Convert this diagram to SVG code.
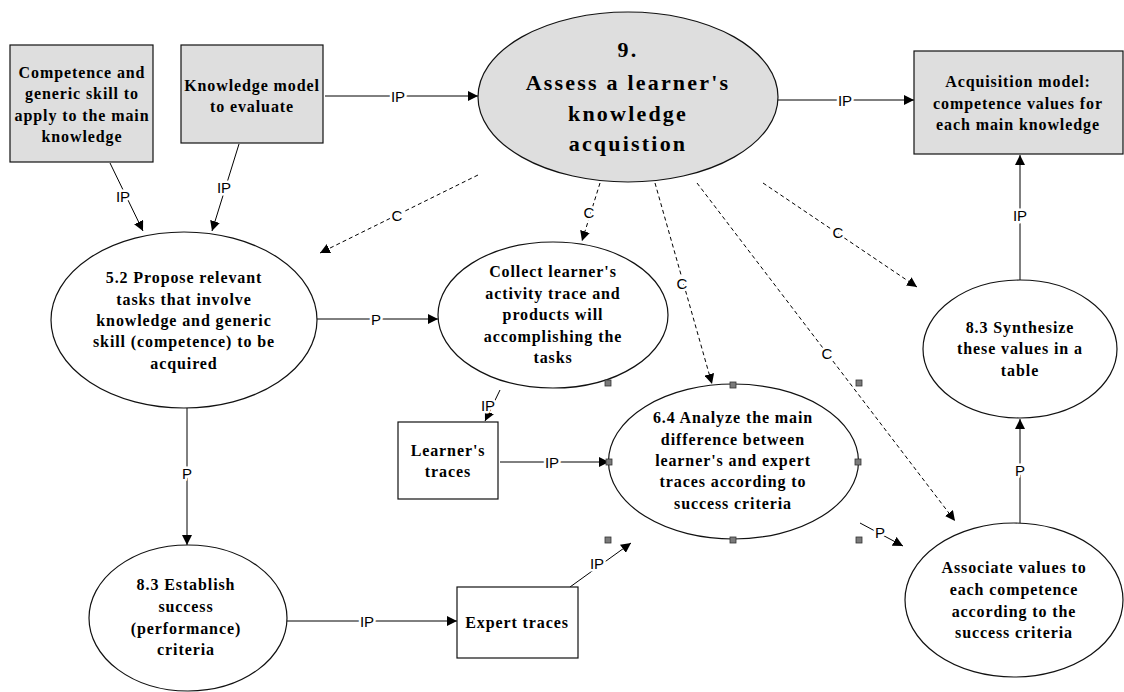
<svg xmlns="http://www.w3.org/2000/svg" width="1124" height="692" viewBox="0 0 1124 692">
  <style>
    .node { stroke: #111; stroke-width: 1.2; }
    .grey { fill: #dedede; }
    .white { fill: #ffffff; }
    .t { font-family: "Liberation Serif", "Times New Roman", serif; font-weight: bold; font-size: 16px; letter-spacing: 0.9px; text-anchor: middle; fill: #000; }
    .big { font-size: 22px; letter-spacing: 2.2px; }
    .link { stroke: #000; stroke-width: 1; fill: none; }
    .dash { stroke-dasharray: 4 3; }
    .lbl { font-family: "Liberation Sans", Arial, sans-serif; font-size: 15px; text-anchor: middle; dominant-baseline: central; fill: #000; paint-order: stroke; stroke: #fff; stroke-width: 5px; stroke-linejoin: round; }
    .handle { fill: #7a7a7a; stroke: #333; stroke-width: 0.8; }
  </style>
  <defs>
    <marker id="arrow" viewBox="0 0 10 10" refX="10" refY="5" markerWidth="10" markerHeight="10" markerUnits="userSpaceOnUse" orient="auto">
      <path d="M0,0 L10,5 L0,10 z" fill="#000"/>
    </marker>
  </defs>

  <!-- connectors -->
  <g id="connectors">
    <line class="link" x1="325" y1="96" x2="478" y2="96" marker-end="url(#arrow)"/>
    <line class="link" x1="778" y1="100" x2="914" y2="100" marker-end="url(#arrow)"/>
    <line class="link" x1="110" y1="163" x2="143" y2="231" marker-end="url(#arrow)"/>
    <line class="link" x1="239" y1="144" x2="212" y2="231" marker-end="url(#arrow)"/>
    <line class="link dash" x1="478" y1="175" x2="320" y2="253" marker-end="url(#arrow)"/>
    <line class="link" x1="317" y1="319" x2="438" y2="319" marker-end="url(#arrow)"/>
    <line class="link dash" x1="600" y1="183" x2="582" y2="241" marker-end="url(#arrow)"/>
    <line class="link dash" x1="655" y1="183" x2="712" y2="384" marker-end="url(#arrow)"/>
    <line class="link dash" x1="697" y1="183" x2="955" y2="521" marker-end="url(#arrow)"/>
    <line class="link dash" x1="763" y1="183" x2="917" y2="287" marker-end="url(#arrow)"/>
    <line class="link" x1="500" y1="390" x2="485" y2="421" marker-end="url(#arrow)"/>
    <line class="link" x1="500" y1="462" x2="609" y2="462" marker-end="url(#arrow)"/>
    <line class="link" x1="187" y1="408" x2="187" y2="545" marker-end="url(#arrow)"/>
    <line class="link" x1="287" y1="621" x2="457" y2="621" marker-end="url(#arrow)"/>
    <line class="link" x1="570" y1="587" x2="631" y2="543" marker-end="url(#arrow)"/>
    <line class="link" x1="860" y1="523" x2="903" y2="546" marker-end="url(#arrow)"/>
    <line class="link" x1="1020" y1="280" x2="1020" y2="155" marker-end="url(#arrow)"/>
    <line class="link" x1="1020" y1="523" x2="1020" y2="419" marker-end="url(#arrow)"/>

    <text class="lbl" x="398" y="96">IP</text>
    <text class="lbl" x="845" y="100">IP</text>
    <text class="lbl" x="123" y="196">IP</text>
    <text class="lbl" x="224" y="187">IP</text>
    <text class="lbl" x="397" y="215">C</text>
    <text class="lbl" x="376" y="319">P</text>
    <text class="lbl" x="589" y="212">C</text>
    <text class="lbl" x="682" y="283">C</text>
    <text class="lbl" x="827" y="353">C</text>
    <text class="lbl" x="838" y="232">C</text>
    <text class="lbl" x="488" y="405">IP</text>
    <text class="lbl" x="552" y="462">IP</text>
    <text class="lbl" x="187" y="473">P</text>
    <text class="lbl" x="367" y="621">IP</text>
    <text class="lbl" x="597" y="563">IP</text>
    <text class="lbl" x="880" y="532">P</text>
    <text class="lbl" x="1020" y="215">IP</text>
    <text class="lbl" x="1020" y="470">P</text>
  </g>

  <!-- nodes -->
  <g id="competence-skill">
    <rect class="node grey" x="10" y="45" width="143" height="117"/>
    <text class="t" x="82" y="78">Competence and</text>
    <text class="t" x="82" y="99">generic skill to</text>
    <text class="t" x="82" y="121">apply to the main</text>
    <text class="t" x="82" y="142">knowledge</text>
  </g>

  <g id="knowledge-model">
    <rect class="node grey" x="181" y="45" width="142" height="98"/>
    <text class="t" x="252" y="91">Knowledge model</text>
    <text class="t" x="252" y="112">to evaluate</text>
  </g>

  <g id="assess-acquisition">
    <ellipse class="node grey" cx="628" cy="97" rx="150" ry="85"/>
    <text class="t big" x="628" y="57">9.</text>
    <text class="t big" x="628" y="90">Assess a learner's</text>
    <text class="t big" x="628" y="121">knowledge</text>
    <text class="t big" x="628" y="151">acquistion</text>
  </g>

  <g id="acquisition-model">
    <rect class="node grey" x="914" y="51" width="209" height="103"/>
    <text class="t" x="1018" y="87">Acquisition model:</text>
    <text class="t" x="1018" y="109">competence values for</text>
    <text class="t" x="1018" y="130">each main knowledge</text>
  </g>

  <g id="propose-tasks">
    <ellipse class="node white" cx="184" cy="320" rx="133" ry="88"/>
    <text class="t" x="184" y="283">5.2 Propose relevant</text>
    <text class="t" x="184" y="305">tasks that involve</text>
    <text class="t" x="184" y="326">knowledge and generic</text>
    <text class="t" x="184" y="347">skill (competence) to be</text>
    <text class="t" x="184" y="369">acquired</text>
  </g>

  <g id="collect-traces">
    <ellipse class="node white" cx="553" cy="315" rx="115" ry="73"/>
    <text class="t" x="553" y="277">Collect learner's</text>
    <text class="t" x="553" y="299">activity trace and</text>
    <text class="t" x="553" y="320">products will</text>
    <text class="t" x="553" y="342">accomplishing the</text>
    <text class="t" x="553" y="363">tasks</text>
  </g>

  <g id="learner-traces">
    <rect class="node white" x="398" y="422" width="100" height="77"/>
    <text class="t" x="448" y="456">Learner's</text>
    <text class="t" x="448" y="477">traces</text>
  </g>

  <g id="analyze-difference">
    <ellipse class="node white" cx="733.5" cy="461.5" rx="125" ry="77.5"/>
    <text class="t" x="733" y="423">6.4 Analyze the main</text>
    <text class="t" x="733" y="445">difference between</text>
    <text class="t" x="733" y="466">learner's and expert</text>
    <text class="t" x="733" y="487">traces according to</text>
    <text class="t" x="733" y="509">success criteria</text>
    <rect class="handle" x="605" y="380" width="6" height="6"/>
    <rect class="handle" x="730" y="382" width="6" height="6"/>
    <rect class="handle" x="856" y="380" width="6" height="6"/>
    <rect class="handle" x="606" y="459" width="6" height="6"/>
    <rect class="handle" x="855" y="459" width="6" height="6"/>
    <rect class="handle" x="605" y="537" width="6" height="6"/>
    <rect class="handle" x="730" y="537" width="6" height="6"/>
    <rect class="handle" x="856" y="537" width="6" height="6"/>
  </g>

  <g id="synthesize-values">
    <ellipse class="node white" cx="1020" cy="349" rx="97" ry="69"/>
    <text class="t" x="1020" y="333">8.3 Synthesize</text>
    <text class="t" x="1020" y="354">these values in a</text>
    <text class="t" x="1020" y="376">table</text>
  </g>

  <g id="associate-values">
    <ellipse class="node white" cx="1014" cy="600" rx="109" ry="77"/>
    <text class="t" x="1014" y="573">Associate values to</text>
    <text class="t" x="1014" y="595">each competence</text>
    <text class="t" x="1014" y="617">according to the</text>
    <text class="t" x="1014" y="638">success criteria</text>
  </g>

  <g id="establish-criteria">
    <ellipse class="node white" cx="188" cy="618" rx="99" ry="73"/>
    <text class="t" x="186" y="590">8.3 Establish</text>
    <text class="t" x="186" y="612">success</text>
    <text class="t" x="186" y="634">(performance)</text>
    <text class="t" x="186" y="655">criteria</text>
  </g>

  <g id="expert-traces">
    <rect class="node white" x="457" y="587" width="121" height="71"/>
    <text class="t" x="517" y="628">Expert traces</text>
  </g>
</svg>
